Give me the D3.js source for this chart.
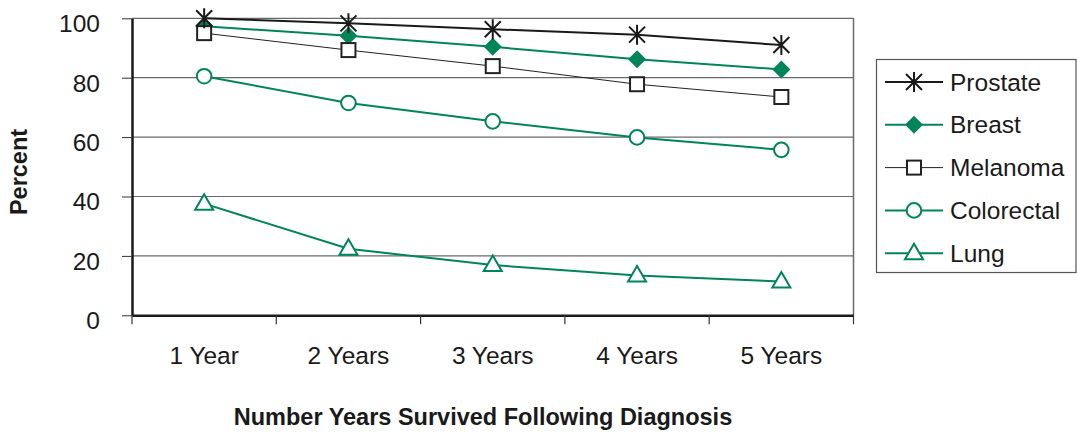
<!DOCTYPE html>
<html><head><meta charset="utf-8">
<script src="https://cdn.jsdelivr.net/npm/d3@7"></script>
<style>
html,body{margin:0;padding:0;background:#fff;}
svg{display:block;font-family:"Liberation Sans",Arial,Helvetica,sans-serif;}
</style></head>
<body><svg id="c" width="1077" height="434"></svg>
<script>
const categories = ["1 Year","2 Years","3 Years","4 Years","5 Years"];
const prostate   = [100, 98.3, 96.3, 94.5, 91.0];
const breast     = [97.3, 94.1, 90.4, 86.2, 82.8];
const melanoma   = [95.0, 89.3, 83.9, 77.8, 73.5];
const colorectal = [80.5, 71.5, 65.3, 59.9, 55.7];
const lung       = [37.6, 22.4, 16.9, 13.4, 11.4];
const yTicks     = [0, 20, 40, 60, 80, 100];
const seriesNames = ["Prostate","Breast","Melanoma","Colorectal","Lung"];

const GREEN = "#00855a";
const series = [
  {name:"Lung", values:lung, color:GREEN, w:2, marker:"triangle"},
  {name:"Colorectal", values:colorectal, color:GREEN, w:2, marker:"circle"},
  {name:"Breast", values:breast, color:GREEN, w:2, marker:"diamond"},
  {name:"Melanoma", values:melanoma, color:"#222", w:1, marker:"square"},
  {name:"Prostate", values:prostate, color:"#1a1a1a", w:2, marker:"star"}
];

const svg = d3.select("#c");
const L = 132, R = 853.5, T = 18.3, B = 315.3;
const x = d3.scaleBand().domain(categories).range([L, R]).padding(0);
const y = d3.scaleLinear().domain([0,100]).range([B, T]);

// gridlines
svg.append("g").selectAll("line").data(yTicks.filter(d=>d>0)).join("line")
  .attr("x1", L).attr("x2", R).attr("y1", d=>y(d)).attr("y2", d=>y(d))
  .attr("stroke", "#6a6a6a").attr("stroke-width", 1.2);
// right border
svg.append("line").attr("x1",R).attr("x2",R).attr("y1",T).attr("y2",B)
  .attr("stroke","#6a6a6a").attr("stroke-width",1.5);

// left axis
const ya = svg.append("g").attr("transform",`translate(${L},0)`)
  .call(d3.axisLeft(y).tickValues(yTicks).tickSize(10).tickPadding(22).tickSizeOuter(0));
ya.select(".domain").attr("stroke","#1a1a1a").attr("stroke-width",2.5);
ya.selectAll(".tick line").attr("stroke","#333").attr("stroke-width",1);
ya.selectAll(".tick text").attr("font-size","24.5px").attr("fill","#1a1a1a").attr("dy","0.55em");

// bottom axis
const xa = svg.append("g").attr("transform",`translate(0,${B})`)
  .call(d3.axisBottom(x).tickSize(0).tickPadding(31).tickSizeOuter(0));
xa.select(".domain").attr("stroke","#1a1a1a").attr("stroke-width",2.5);
xa.selectAll(".tick text").attr("font-size","24.5px").attr("fill","#1a1a1a");
const edges = categories.map(c=>x(c)).concat([x(categories[categories.length-1])+x.bandwidth()]);
svg.append("g").selectAll("line").data(edges).join("line")
  .attr("x1",d=>d).attr("x2",d=>d).attr("y1",B).attr("y2",B+9)
  .attr("stroke","#333").attr("stroke-width",1.2);

// axis titles
svg.append("text").attr("x",483).attr("y",425).attr("text-anchor","middle")
  .attr("font-size","23.5px").attr("font-weight","bold").attr("fill","#1a1a1a")
  .text("Number Years Survived Following Diagnosis");
svg.append("text").attr("transform","translate(27,172) rotate(-90)").attr("text-anchor","middle")
  .attr("font-size","23.5px").attr("font-weight","bold").attr("fill","#1a1a1a")
  .text("Percent");

function drawMarker(g, type, color){
  if(type==="triangle"){
    g.append("path").attr("d","M0,-9.5 L9,6 L-9,6 Z").attr("fill","#fff").attr("stroke",color).attr("stroke-width",2);
  } else if(type==="circle"){
    g.append("circle").attr("r",7.3).attr("fill","#fff").attr("stroke",color).attr("stroke-width",2);
  } else if(type==="diamond"){
    g.append("path").attr("d","M0,-9 L9,0 L0,9 L-9,0 Z").attr("fill",color);
  } else if(type==="square"){
    g.append("rect").attr("x",-7).attr("y",-7).attr("width",14).attr("height",14)
      .attr("fill","#fff").attr("stroke",color).attr("stroke-width",2);
  } else if(type==="star"){
    const p="M-8,-8 L8,8 M8,-8 L-8,8 M0,-10 L0,10";
    g.append("path").attr("d",p).attr("stroke",color).attr("stroke-width",2).attr("fill","none");
  }
}

const line = d3.line().x((d,i)=>x(categories[i])+x.bandwidth()/2).y(d=>y(d));
series.forEach(s=>{
  svg.append("path").datum(s.values).attr("d",line).attr("fill","none")
    .attr("stroke",s.color).attr("stroke-width",s.w);
});
series.forEach(s=>{
  s.values.forEach((v,i)=>{
    const g = svg.append("g").attr("transform",`translate(${x(categories[i])+x.bandwidth()/2},${y(v)})`);
    drawMarker(g, s.marker, s.color);
  });
});

// legend
const lg = svg.append("g");
lg.append("rect").attr("x",876.5).attr("y",59.5).attr("width",199.5).attr("height",213)
  .attr("fill","#fff").attr("stroke","#555").attr("stroke-width",1.2);
const bySeries = {};
series.forEach(s=>bySeries[s.name]=s);
seriesNames.forEach((n,i)=>{
  const s = bySeries[n];
  const cy = 82 + i*42.8;
  lg.append("line").attr("x1",885).attr("x2",943).attr("y1",cy).attr("y2",cy)
    .attr("stroke",s.color).attr("stroke-width",s.w);
  drawMarker(lg.append("g").attr("transform",`translate(914,${cy})`), s.marker, s.color);
  lg.append("text").attr("x",950).attr("y",cy+8.5).attr("font-size","24.5px").attr("fill","#1a1a1a").text(n);
});
</script></body></html>
